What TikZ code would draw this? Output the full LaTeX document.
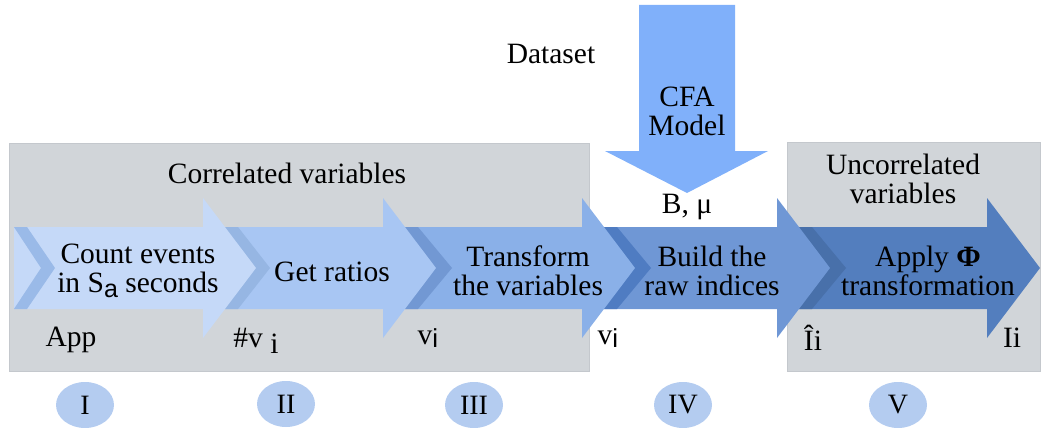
\documentclass[tikz,border=0pt]{standalone}
\usepackage{fontspec}
\usetikzlibrary{shapes.geometric}
\setmainfont{Liberation Serif}
\newfontfamily\subfont{Liberation Sans}
\definecolor{boxgray}{RGB}{209,213,217}
\definecolor{boxedge}{RGB}{196,200,205}
\definecolor{aone}{RGB}{197,217,248}
\definecolor{atwo}{RGB}{168,198,243}
\definecolor{athree}{RGB}{138,176,232}
\definecolor{afour}{RGB}{111,151,213}
\definecolor{afive}{RGB}{83,126,190}
\definecolor{bone}{RGB}{154,186,232}
\definecolor{btwo}{RGB}{150,182,227}
\definecolor{bthree}{RGB}{114,152,211}
\definecolor{bfour}{RGB}{79,124,194}
\definecolor{bfive}{RGB}{72,112,170}
\definecolor{cfablue}{RGB}{128,176,250}
\definecolor{circblue}{RGB}{180,204,240}
\newcommand{\sbs}[1]{\raisebox{-5pt}{\subfont\fontsize{25}{25}\selectfont #1}}
\newcommand{\sbv}[1]{\raisebox{-3pt}{\subfont\fontsize{26}{26}\selectfont #1}}
\begin{document}
\begin{tikzpicture}[x=1pt,y=-1pt,
  txt/.style={font=\fontsize{29.5}{29}\selectfont, align=center, inner sep=0pt},
  graybox/.style={fill=boxgray, draw=boxedge, line width=1pt},
  stage/.style={ellipse, fill=circblue, minimum width=58pt, minimum height=46pt, inner sep=0pt, font=\fontsize{28}{29}\selectfont}]
\useasboundingbox (0,0) rectangle (1042,428);
% gray panels
\path[graybox] (9,143) rectangle (589,371);
\path[graybox] (787,142) rectangle (1040,371);
% CFA down arrow
\fill[cfablue] (639,5) -- (735,5) -- (735,151) -- (768,151) -- (687,193) -- (605,151) -- (639,151) -- cycle;
% arrows drawn from last to first
% arrow 5
\fill[afive] (799,227) -- (987,227) -- (987,198) -- (1040,268) -- (987,338) -- (987,309) -- (799,309) -- cycle;
\fill[bfive] (799,227) -- (812,227) -- (846,268) -- (812,309) -- (799,309) -- cycle;
% arrow 4
\fill[afour] (604,227) -- (777,227) -- (777,198) -- (830,268) -- (777,338) -- (777,309) -- (604,309) -- cycle;
\fill[bfour] (604,227) -- (617,227) -- (651,268) -- (617,309) -- (604,309) -- cycle;
% arrow 3
\fill[athree] (405,227) -- (582,227) -- (582,198) -- (635,268) -- (582,338) -- (582,309) -- (405,309) -- cycle;
\fill[bthree] (405,227) -- (418,227) -- (452,268) -- (418,309) -- (405,309) -- cycle;
% arrow 2
\fill[atwo] (225,227) -- (383,227) -- (383,198) -- (436,268) -- (383,338) -- (383,309) -- (225,309) -- cycle;
\fill[btwo] (225,227) -- (238,227) -- (270,268) -- (238,309) -- (225,309) -- cycle;
% arrow 1
\fill[aone] (14,227) -- (203,227) -- (203,198) -- (256,268) -- (203,338) -- (203,309) -- (14,309) -- cycle;
\fill[bone] (14,227) -- (27,227) -- (55,268) -- (27,309) -- (14,309) -- (41,268) -- cycle;
% texts
\node[txt] (dataset) at (551,54) {Dataset};
\node[txt] (cfa) at (687,111) {CFA\\Model};
\node[txt] (bmu) at (687,207) {B, μ};
\node[txt] (corr) at (287,173) {Correlated variables};
\node[txt] (uncorr) at (903,179) {Uncorrelated\\variables};
\node[txt] (s1) at (138,271) {Count events\\in S\sbs{a} seconds};
\node[txt] (s2) at (332,272) {Get ratios};
\node[txt] (s3) at (528,271) {Transform\\the variables};
\node[txt] (s4) at (712,271) {Build the\\raw indices};
\node[txt] (s5) at (928,271) {Apply \textbf{Φ}\\transformation};
\node[txt] (l1) at (71,340) {App};
\node[txt] (l2) at (256,341) {\#v \raisebox{-6pt}{i}};
\node[txt] (l3) at (428,338) {v\sbv{i}};
\node[txt] (l4) at (608,338) {v\sbv{i}};
\node[txt] (l5) at (813,338) {Îi};
\node[txt] (l6) at (1012,338) {Ii};
% stage markers
\node[stage] (c1) at (85,405) {I};
\node[stage] (c2) at (286,404) {II};
\node[stage] (c3) at (474,405) {III};
\node[stage] (c4) at (683,405) {IV};
\node[stage] (c5) at (898,405) {V};
\end{tikzpicture}
\end{document}
